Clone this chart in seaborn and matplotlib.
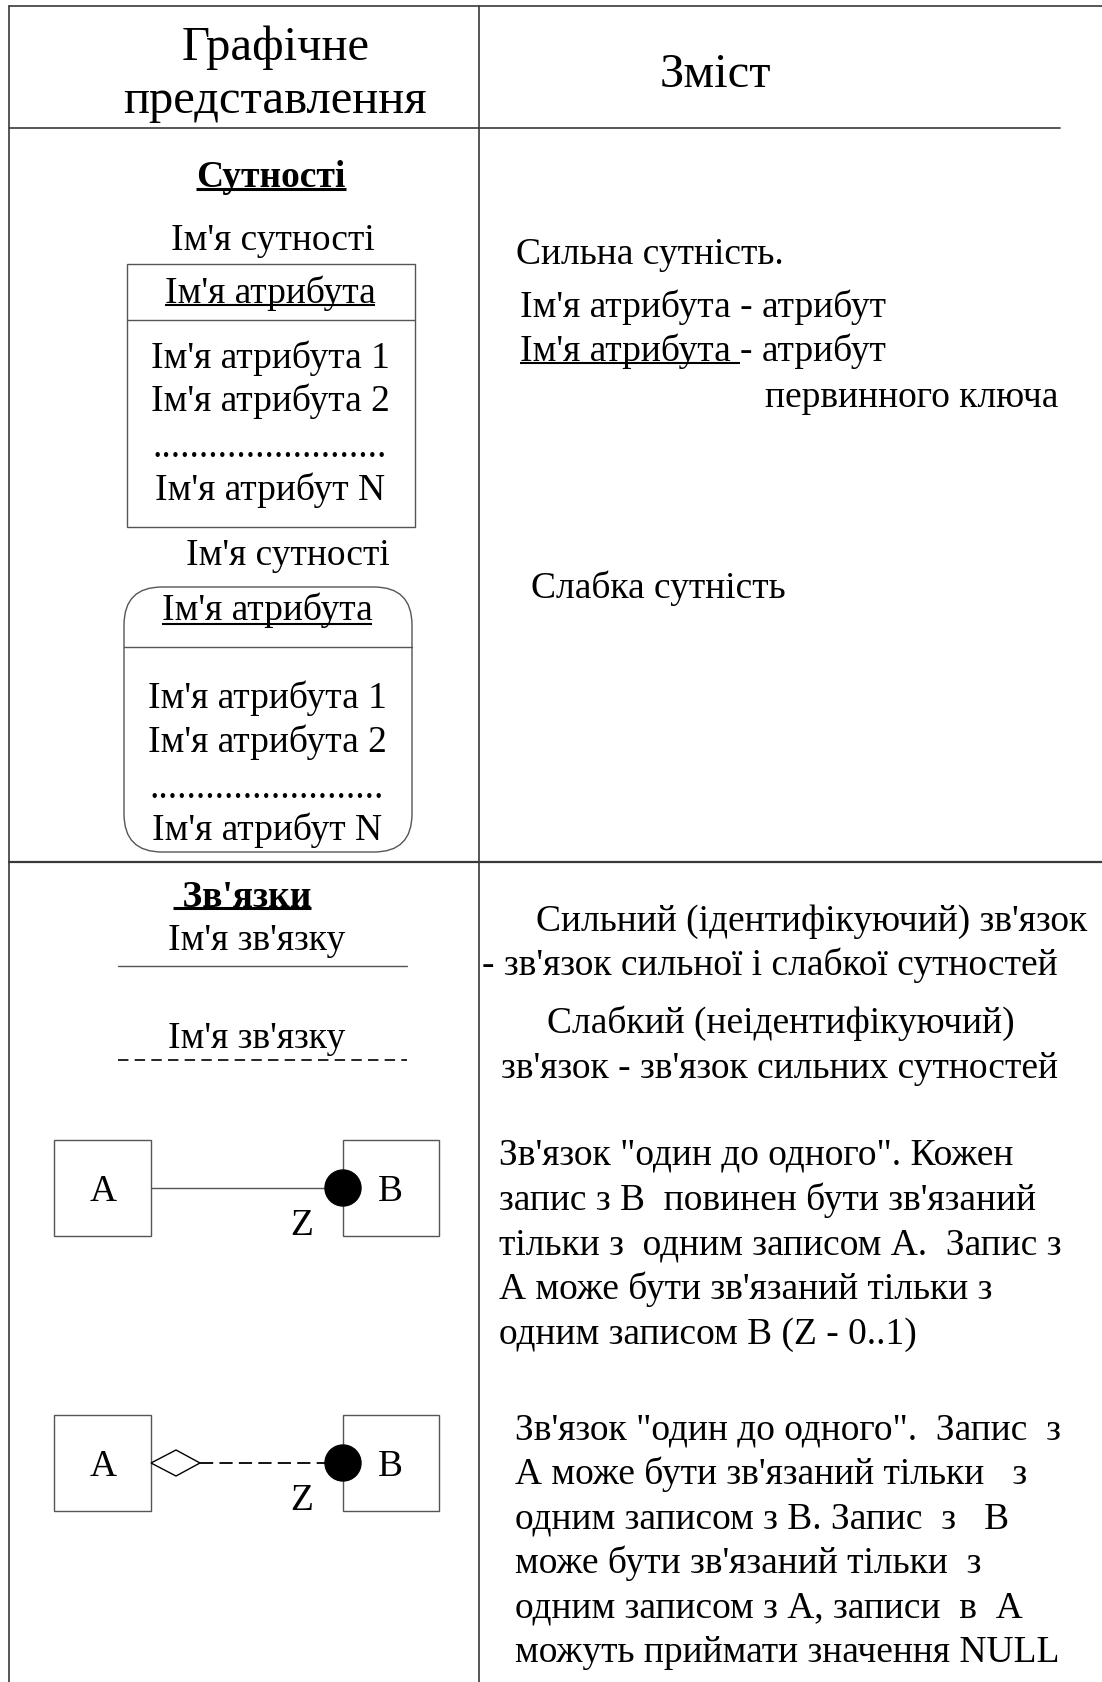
import numpy as np
import matplotlib
matplotlib.use("Agg")
import matplotlib.pyplot as plt
import seaborn as sns
from matplotlib.patches import Rectangle, FancyBboxPatch, Circle, Polygon

# ---- text content ----
header_left = ["Графічне", "представлення"]
header_right = "Зміст"

entity_title = "Сутності"
entity_name = "Ім'я сутності"
key_attr = "Ім'я атрибута"
attrs = ["Ім'я атрибута 1", "Ім'я атрибута 2", "." * 25, "Ім'я атрибут N"]

rel_title = " Зв'язки"
rel_name = "Ім'я зв'язку"

right_entities = ["Сильна сутність.", "Ім'я атрибута - атрибут", "Ім'я атрибута ",
                  "- атрибут", "первинного ключа", "Слабка сутність"]
right_rel_top = ["Сильний (ідентифікуючий) зв'язок",
                 "- зв'язок сильної і слабкої сутностей",
                 "Слабкий (неідентифікуючий)",
                 "зв'язок - зв'язок сильних сутностей"]
right_one_to_one = ["Зв'язок \"один до одного\". Кожен",
                    "запис з В  повинен бути зв'язаний",
                    "тільки з  одним записом А.  Запис з",
                    "А може бути зв'язаний тільки з",
                    "одним записом В (Z - 0..1)"]
right_one_to_one_null = ["Зв'язок \"один до одного\".  Запис  з",
                         "А може бути зв'язаний тільки   з",
                         "одним записом з В. Запис  з   В",
                         "може бути зв'язаний тільки  з",
                         "одним записом з А, записи  в  А",
                         "можуть приймати значення NULL"]

# ---- layout (pixels, y down) ----
W, H = 1102, 1683
FS = 27
LINE = "#3a3a3a"
BOX = "#555555"

sns.set_theme(style="white")
plt.rcParams['font.family'] = ['Liberation Serif', 'DejaVu Serif']
plt.rcParams['lines.scale_dashes'] = False

fig = plt.figure(figsize=(W / 100, H / 100), dpi=100)
ax = fig.add_axes([0, 0, 1, 1])
ax.set_xlim(0, W)
ax.set_ylim(H, 0)
ax.axis("off")


def txt(x, y, s, size=FS, ha="left", weight="normal"):
    return ax.text(x, y, s, fontsize=size, ha=ha, va="baseline",
                   color="black", fontweight=weight)


def extent(t):
    fig.canvas.draw()
    bb = t.get_window_extent(fig.canvas.get_renderer())
    inv = ax.transData.inverted()
    x0, _ = inv.transform((bb.x0, bb.y0))
    x1, _ = inv.transform((bb.x1, bb.y0))
    return x0, x1


def underline(t, y, lw=1.5):
    x0, x1 = extent(t)
    ax.plot([x0, x1], [y, y], color="black", lw=lw, solid_capstyle="butt")
    return x1


# table grid
ax.plot([9, W], [7, 7], color=LINE, lw=1.2)
ax.plot([9, 9], [7, H], color=LINE, lw=1.2)
ax.plot([479, 479], [7, H], color=LINE, lw=1.2)
ax.plot([9, 1060], [129, 129], color=LINE, lw=1.2)
ax.plot([9, W], [863, 863], color=LINE, lw=1.6)

# header
txt(276, 60, header_left[0], size=35, ha="center")
txt(275, 113, header_left[1], size=35, ha="center")
txt(715, 87, header_right, size=35, ha="center")

# strong entity
t = txt(271, 187, entity_title, weight="bold", ha="center")
underline(t, 190, lw=2.2)
txt(273, 250, entity_name, ha="center")
ax.add_patch(Rectangle((127, 265), 288, 263, fill=False, ec=BOX, lw=1.0))
ax.plot([127, 415], [321, 321], color=BOX, lw=1.0)
t = txt(270, 303, key_attr, ha="center")
underline(t, 306)
for yy, s in zip([368, 411, 457, 500], attrs):
    txt(270, yy, s, ha="center")

# weak entity
txt(288, 565, entity_name, ha="center")
ax.add_patch(FancyBboxPatch((124, 588), 288, 265,
                            boxstyle="round,pad=0,rounding_size=38",
                            fill=False, ec=BOX, lw=1.0))
ax.plot([124, 412], [648, 648], color=BOX, lw=1.0)
t = txt(267, 620, key_attr, ha="center")
underline(t, 625)
for yy, s in zip([708, 752, 798, 840], attrs):
    txt(267, yy, s, ha="center")

# right column, entities
txt(516, 264, right_entities[0])
txt(520, 317, right_entities[1])
t = txt(520, 361, right_entities[2])
xe = underline(t, 364)
txt(xe, 361, right_entities[3])
txt(765, 407, right_entities[4])
txt(531, 598, right_entities[5])

# relationships, left
t = txt(242, 907, rel_title, weight="bold", ha="center")
underline(t, 909, lw=2.2)
txt(257, 950, rel_name, ha="center")
ax.plot([118, 407], [967, 967], color=BOX, lw=1.0)
txt(257, 1048, rel_name, ha="center")
ax.plot([118, 407], [1061, 1061], color="black", lw=1.2, dashes=(7.5, 4.5))

for ly, dashed in [(1189, False), (1464, True)]:
    top = ly - 48
    ax.add_patch(Rectangle((54, top), 97, 96, fill=False, ec=BOX, lw=1.0))
    ax.add_patch(Rectangle((343, top), 96, 96, fill=False, ec=BOX, lw=1.0))
    if dashed:
        ax.add_patch(Polygon([[151, ly], [176, ly - 13], [200, ly], [176, ly + 13]],
                             closed=True, fill=False, ec="black", lw=1.0))
        ax.plot([200, 343], [ly, ly], color="black", lw=1.3, dashes=(9.5, 4.5))
    else:
        ax.plot([151, 343], [ly, ly], color=BOX, lw=1.0)
    ax.add_patch(Circle((343, ly), 18, color="black", zorder=5))
    txt(103, ly + 12, "A", ha="center")
    txt(390, ly + 12, "B", ha="center")
    txt(302, ly + 46, "Z", ha="center")

# right column, relationships
for x, yy, s in zip([536, 482, 547, 501], [931, 975, 1033, 1078], right_rel_top):
    txt(x, yy, s)
for i, s in enumerate(right_one_to_one):
    txt(499, 1165 + i * 44.8, s)
for i, s in enumerate(right_one_to_one_null):
    txt(515, 1440 + i * 44.4, s)

fig.savefig("out.png", dpi=100)
